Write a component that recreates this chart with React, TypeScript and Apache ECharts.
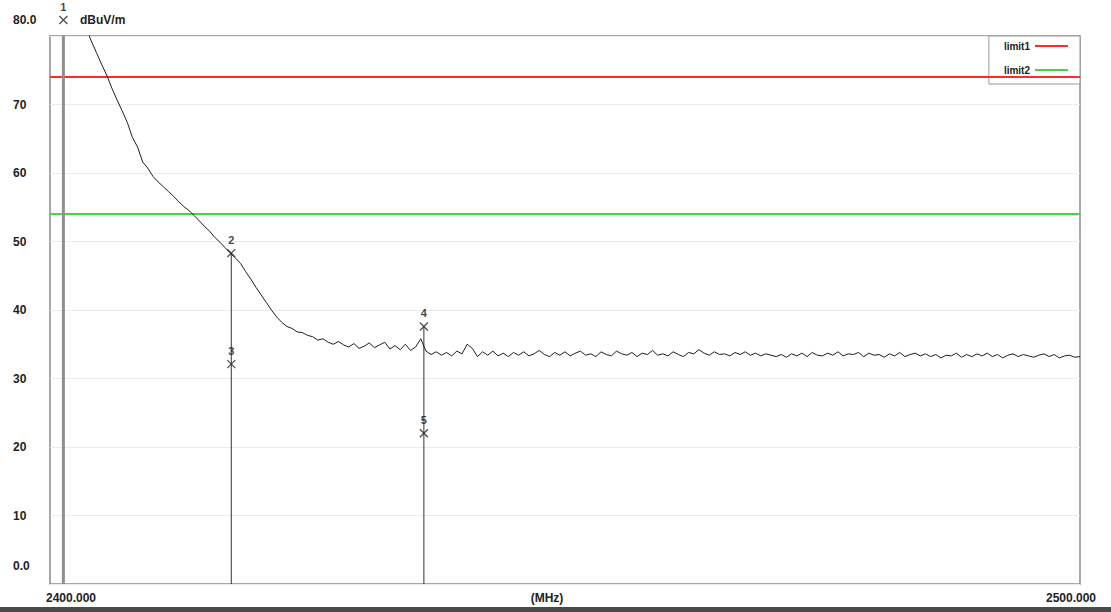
import React, { useEffect, useRef } from "react";
import * as echarts from "echarts";

// Sweep: 2400 MHz to 2500 MHz, one reading per 0.5 MHz
const START_MHZ = 2400;
const STEP_MHZ = 0.5;
const traceLevels = [
  86.0, 86.4, 86.8, 87.0, 86.5, 85.2, 83.4, 81.2, 79.3, 77.6,
  75.9, 74.3, 72.4, 70.7, 69.1, 67.4, 65.2, 63.8, 61.6, 60.7,
  59.5, 58.7, 58.0, 57.3, 56.6, 55.8, 55.1, 54.5, 53.8, 53.0,
  52.2, 51.5, 50.6, 49.9, 49.1, 48.3, 47.6, 46.8, 45.6, 44.5,
  43.3, 42.2, 41.1, 40.0, 39.0, 38.2, 37.6, 37.3, 36.8, 36.7,
  36.3, 36.1, 35.6, 35.8, 35.3, 35.0, 35.4, 34.9, 34.6, 35.1,
  34.4, 34.7, 35.2, 34.5, 34.9, 35.3, 34.3, 34.8, 34.2, 35.0,
  34.1, 34.6, 35.8, 34.0, 33.5, 33.9, 33.4, 33.8, 33.3, 34.0,
  33.6, 35.0, 34.4, 33.2, 33.9, 33.4, 34.0, 33.3, 33.7, 33.2,
  33.8,
  33.4, 33.9, 33.3, 33.6, 34.1, 33.5, 33.2, 33.8, 33.4, 33.9,
  33.3, 33.7, 34.0, 33.4, 33.6, 33.2, 33.9, 33.5, 33.3, 34.0,
  33.6, 33.4, 33.8, 33.2, 33.7, 33.5, 34.1, 33.4, 33.6, 33.3,
  33.9, 33.5, 33.2, 33.8, 33.6, 34.2, 33.7, 33.4, 33.9, 33.5,
  33.6, 33.3, 33.8, 33.5, 33.9, 33.4, 33.7, 33.3, 33.6, 33.4,
  33.2, 33.5, 33.1, 33.6, 33.3, 33.7, 33.2, 33.8, 33.4, 33.3,
  33.7, 33.4, 33.9, 33.3, 33.6, 33.5, 33.8, 33.2, 33.7, 33.4,
  33.5, 33.1, 33.6, 33.3, 33.8, 33.2, 33.5, 33.7, 33.3, 33.6,
  33.2, 33.5, 33.0, 33.4, 33.3, 33.7, 33.1, 33.5, 33.2, 33.6,
  33.3, 33.7, 33.2, 33.5, 33.0, 33.4, 33.6, 33.2, 33.5, 33.3,
  33.1, 33.4, 33.6, 33.2, 33.5, 33.0, 33.3, 33.4, 33.1, 33.2,
];

const limitNames = ["limit1", "limit2"];
const limitLevels = [74, 54];
const limitColors = ["#ff2a2a", "#3ddc3d"];

const markerNames = ["1", "2", "3", "4", "5"];
const markerFreqs = [2401.3, 2417.6, 2417.6, 2436.3, 2436.3];
const markerLevels = [80, 48.3, 32.1, 37.6, 22.0];

// vertical marker lines: frequency and top level
const markerLineFreqs = [2401.3, 2417.6, 2436.3];
const markerLineTops = [80, 48.3, 37.6];

const X_MIN = 2400;
const X_MAX = 2500;
const Y_MIN = 0;
const Y_MAX = 80;
const Y_STEP = 10;
const yUnit = "dBuV/m";
const xUnit = "(MHz)";

export default function App() {
  const ref = useRef<HTMLDivElement>(null);
  useEffect(() => {
    if (!ref.current) return;
    const chart = echarts.init(ref.current, undefined, { renderer: "svg" });
    const trace = traceLevels.map((v, i) => [START_MHZ + i * STEP_MHZ, v]);
    const font = "'Liberation Sans', Arial, sans-serif";

    const limitSeries = limitNames.map((n, i) => ({
      name: n,
      type: "line",
      data: [
        [X_MIN, limitLevels[i]],
        [X_MAX, limitLevels[i]],
      ],
      showSymbol: false,
      symbol: "none",
      lineStyle: { color: limitColors[i], width: 2 },
      itemStyle: { color: limitColors[i] },
      z: 3,
    }));

    const markerLineSeries = markerLineFreqs.map((f, i) => ({
      type: "line",
      data: [
        [f, 0],
        [f, markerLineTops[i]],
      ],
      symbol: "none",
      lineStyle: i === 0 ? { color: "#8f8f8f", width: 3 } : { color: "#333", width: 1 },
      z: 4,
    }));

    chart.setOption({
      animation: false,
      backgroundColor: "#ffffff",
      textStyle: { fontFamily: font },
      grid: {
        left: 50,
        right: 31,
        top: 36,
        bottom: 28,
        outerBoundsMode: "none",
        containLabel: false,
        show: true,
        borderColor: "#8a8a8a",
        borderWidth: 1.5,
        backgroundColor: "transparent",
      },
      legend: {
        data: limitNames.map((n) => ({ name: n, icon: "rect" })),
        orient: "vertical",
        right: 31,
        top: 36,
        align: "right",
        itemWidth: 33,
        itemHeight: 2,
        itemGap: 14,
        padding: [5, 12, 9, 15],
        backgroundColor: "#ffffff",
        borderColor: "#9a9a9a",
        borderWidth: 1,
        z: 1,
        textStyle: { fontSize: 10, fontWeight: "bold", color: "#222", width: 88, fontFamily: font },
      },
      xAxis: {
        type: "value",
        min: X_MIN,
        max: X_MAX,
        interval: 100,
        name: xUnit,
        nameLocation: "middle",
        nameGap: 8,
        nameMoveOverlap: false,
        nameTextStyle: {
          fontSize: 12,
          fontWeight: "bold",
          color: "#222",
          verticalAlign: "top",
          padding: [0, 36, 0, 0],
        },
        axisLine: { show: false },
        axisTick: { show: false },
        splitLine: { show: false },
        axisLabel: {
          margin: 8,
          fontSize: 12,
          fontWeight: "bold",
          color: "#222",
          formatter: (v: number) => (v === X_MIN ? "{l|" + v.toFixed(3) + "}" : "{r|" + v.toFixed(3) + "}"),
          rich: {
            l: { fontSize: 12, fontWeight: "bold", color: "#222", padding: [0, 0, 0, 42] },
            r: { fontSize: 12, fontWeight: "bold", color: "#222", padding: [0, 18, 0, 0] },
          },
        },
      },
      yAxis: {
        type: "value",
        min: Y_MIN,
        max: Y_MAX,
        interval: Y_STEP,
        name: yUnit,
        nameLocation: "end",
        nameGap: 16,
        nameMoveOverlap: false,
        nameTextStyle: {
          fontSize: 12,
          fontWeight: "bold",
          color: "#222",
          align: "left",
          verticalAlign: "middle",
          padding: [0, 0, 0, 30],
        },
        axisLine: { show: false },
        axisTick: { show: false },
        splitLine: { show: true, lineStyle: { color: "#ebebeb", width: 1 } },
        axisLabel: {
          align: "left",
          margin: 37,
          fontSize: 12,
          fontWeight: "bold",
          color: "#222",
          formatter: (v: number) =>
            v === Y_MAX ? "{t|" + v.toFixed(1) + "}" : v === Y_MIN ? "{b|" + v.toFixed(1) + "}" : String(v),
          rich: {
            t: { fontSize: 12, fontWeight: "bold", color: "#222", padding: [0, 0, 32, 0] },
            b: { fontSize: 12, fontWeight: "bold", color: "#222", padding: [0, 0, 36, 0] },
          },
        },
      },
      series: [
        ...markerLineSeries,
        ...limitSeries,
        {
          type: "line",
          data: trace,
          symbol: "none",
          lineStyle: { color: "#1e1e1e", width: 1 },
          clip: true,
          z: 5,
        },
        {
          type: "scatter",
          data: markerFreqs.map((f, i) => ({
            value: [f, markerLevels[i]],
            name: markerNames[i],
            symbolOffset: i === 0 ? [0, -16] : [0, 0],
          })),
          symbol: "path://M0,0L10,10M10,0L0,10",
          symbolSize: 8,
          clip: false,
          itemStyle: { color: "none", borderColor: "#222", borderWidth: 1.3 },
          label: {
            show: true,
            position: "top",
            distance: 1,
            formatter: (p: any) => p.name,
            fontSize: 11,
            fontWeight: "bold",
            color: "#111",
            textBorderWidth: 0,
            textBorderColor: "transparent",
            fontFamily: font,
          },
          z: 6,
        },
      ],
      graphic: [
        {
          type: "rect",
          left: 0,
          top: 607,
          shape: { width: 1111, height: 5 },
          style: { fill: "#4a4a4a" },
          silent: true,
        },
      ],
    });
    return () => chart.dispose();
  }, []);
  return <div ref={ref} style={{ position: "fixed", left: 0, top: 0, width: 1111, height: 612 }} />;
}
